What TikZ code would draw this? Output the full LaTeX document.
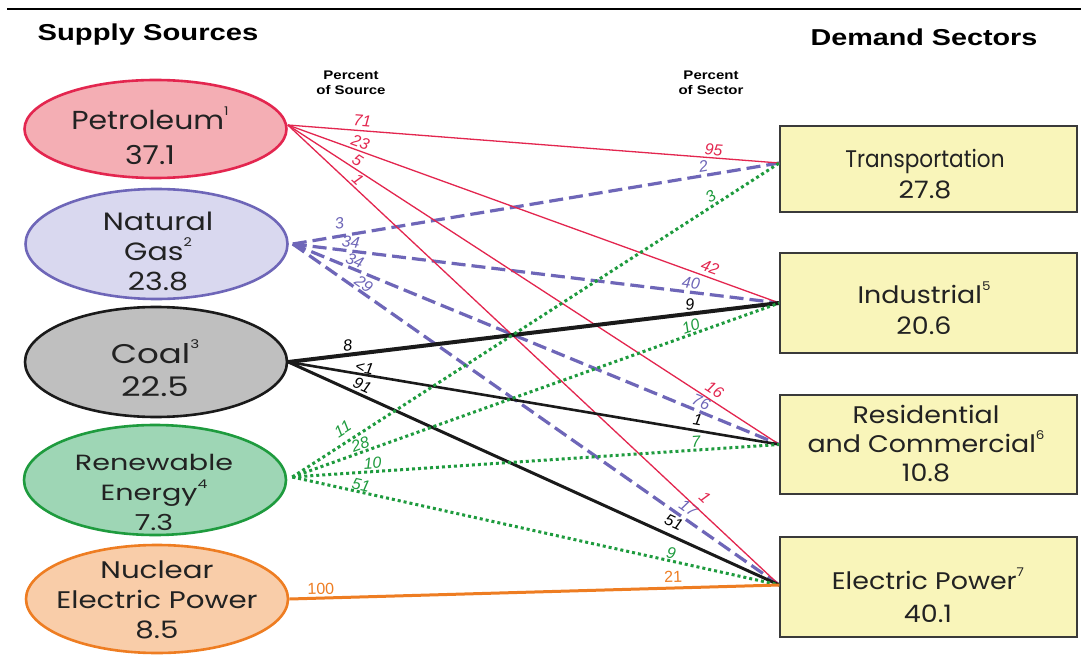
\documentclass[tikz,border=0pt]{standalone}
\usepackage{fontspec}
\setmainfont{Liberation Sans}
\newfontfamily\nodefont{Poppins}
\usetikzlibrary{shapes.geometric}
\definecolor{petfill}{HTML}{F4AEB4}
\definecolor{petdraw}{HTML}{E3264F}
\definecolor{gasfill}{HTML}{D9D8EF}
\definecolor{gasdraw}{HTML}{6E66B8}
\definecolor{coalfill}{HTML}{BFBFBF}
\definecolor{coaldraw}{HTML}{1A1A1A}
\definecolor{renfill}{HTML}{9ED6B5}
\definecolor{rendraw}{HTML}{1E9B3E}
\definecolor{nucfill}{HTML}{F9CDA9}
\definecolor{nucdraw}{HTML}{EE7D22}
\definecolor{boxfill}{HTML}{F9F5BA}
\definecolor{boxdraw}{HTML}{3A3A3A}
\definecolor{txtcol}{HTML}{222222}
\newcommand{\sps}[1]{\raisebox{1.0ex}{\fontsize{12}{12}\selectfont #1}}
\newcommand{\sx}[2]{\scalebox{#1}[1]{#2}}
\begin{document}
\begin{tikzpicture}[x=1pt,y=-1pt,
  src/.style={ellipse, line width=2.6pt, inner sep=0pt, minimum width=262pt},
  sink/.style={rectangle, draw=boxdraw, fill=boxfill, line width=1.3pt, minimum width=297pt, inner sep=0pt},
  srctxt/.style={align=center, inner sep=0pt, text=txtcol},
  head/.style={font=\bfseries\fontsize{23}{23}\selectfont, inner sep=0pt},
  subhead/.style={font=\bfseries\fontsize{12.5}{15}\selectfont, align=center, inner sep=0pt},
  lbl/.style={font=\fontsize{16}{16}\selectfont\itshape, inner sep=1pt, sloped, above=1pt},
  petline/.style={draw=petdraw, line width=1.3pt},
  gasline/.style={draw=gasdraw, line width=3.2pt, dash pattern=on 14pt off 6pt},
  coalline/.style={draw=coaldraw, line width=3pt},
  renline/.style={draw=rendraw, line width=3pt, dash pattern=on 3pt off 3pt},
  nucline/.style={draw=nucdraw, line width=3pt}
]
\useasboundingbox (0,0) rectangle (1081,666);
\fill[white] (0,0) rectangle (1081,666);
\coordinate (ruleL) at (7,9);
\coordinate (ruleR) at (1081,9);
\draw[line width=2.5pt, black] (ruleL) -- (ruleR);

% headings
\node[head] (hsup) at (148,35) {\scalebox{1.27}[1]{Supply Sources}};
\node[head] (hdem) at (924,37) {\scalebox{1.25}[1]{Demand Sectors}};
\node[subhead] (psrc) at (351,83) {\scalebox{1.2}[1]{Percent}\\\scalebox{1.2}[1]{of Source}};
\node[subhead] (psec) at (711,83) {\scalebox{1.2}[1]{Percent}\\\scalebox{1.2}[1]{of Sector}};

% supply sources
\node[src, draw=petdraw, fill=petfill, minimum height=98pt] (pet) at (155.5,129) {};
\node[src, draw=gasdraw, fill=gasfill, minimum height=110pt] (gas) at (156.5,244) {};
\node[src, draw=coaldraw, fill=coalfill, minimum height=110pt] (coal) at (156,362) {};
\node[src, draw=rendraw, fill=renfill, minimum height=110pt] (ren) at (155,480) {};
\node[src, draw=nucdraw, fill=nucfill, minimum height=108pt] (nuc) at (157,599) {};

\node[srctxt, font=\nodefont\fontsize{26}{35}\selectfont] (pett) at (150,136) {\sx{1.15}{Petroleum\sps{1}}\\\sx{1.15}{37.1}};
\node[srctxt, font=\nodefont\fontsize{25}{30}\selectfont] (gast) at (158,251) {\sx{1.2}{Natural}\\\sx{1.2}{Gas\sps{2}}\\\sx{1.2}{23.8}};
\node[srctxt, font=\nodefont\fontsize{27}{33}\selectfont] (coalt) at (155,368) {\sx{1.26}{Coal\sps{3}}\\\sx{1.26}{22.5}};
\node[srctxt, font=\nodefont\fontsize{22}{30}\selectfont] (rent) at (154,492) {\sx{1.3}{Renewable}\\\sx{1.3}{Energy\sps{4}}\\\sx{1.3}{7.3}};
\node[srctxt, font=\nodefont\fontsize{24}{30}\selectfont] (nuct) at (157,600) {\sx{1.22}{Nuclear}\\\sx{1.22}{Electric Power}\\\sx{1.22}{8.5}};

% demand sectors
\node[sink, minimum height=86pt] (tr) at (928.5,169) {};
\node[sink, minimum height=100pt] (ind) at (928.5,303) {};
\node[sink, minimum height=99pt] (res) at (928.5,444.5) {};
\node[sink, minimum height=100pt] (ep) at (928.5,587) {};

\node[srctxt, font=\nodefont\fontsize{24}{31}\selectfont] (trt) at (925,174) {\sx{0.9}{Transportation}\\\sx{1.12}{27.8}};
\node[srctxt, font=\nodefont\fontsize{24}{31}\selectfont] (indt) at (924,308) {\sx{1.12}{Industrial\sps{5}}\\\sx{1.12}{20.6}};
\node[srctxt, font=\nodefont\fontsize{24}{29}\selectfont] (rest) at (926,444) {\sx{1.12}{Residential}\\\sx{1.12}{and Commercial\sps{6}}\\\sx{1.12}{10.8}};
\node[srctxt, font=\nodefont\fontsize{24}{33}\selectfont] (ept) at (928,595) {\sx{1.12}{Electric Power\sps{7}}\\\sx{1.12}{40.1}};

% ports
\coordinate (petE) at ([yshift=4pt]pet.east);
\coordinate (gasE) at ([xshift=4pt]gas.east);
\coordinate (coalE) at (coal.east);
\coordinate (renE) at ([xshift=5pt,yshift=3pt]ren.east);
\coordinate (nucE) at (nuc.east);
\coordinate (trW) at ([yshift=6pt]tr.west);
\coordinate (indW) at (ind.west);
\coordinate (resW) at (res.west);
\coordinate (epW) at ([yshift=2pt]ep.west);

% natural gas
\draw[gasline] (gasE) -- node[lbl, text=gasdraw, pos=0.10, above=3pt] {3} node[lbl, text=gasdraw, pos=0.847] {2} (trW);
\draw[gasline] (gasE) -- node[lbl, text=gasdraw, pos=0.117, above=0pt] {34} node[lbl, text=gasdraw, pos=0.816] {40} (indW);
\draw[gasline] (gasE) -- node[lbl, text=gasdraw, pos=0.121, above=-1pt] {34} node[lbl, text=gasdraw, pos=0.832] {76} (resW);
\draw[gasline] (gasE) -- node[lbl, text=gasdraw, pos=0.136, above=-1pt] {29} node[lbl, text=gasdraw, pos=0.80, above=2pt] {17} (epW);

% petroleum
\draw[petline] (petE) -- node[lbl, text=petdraw, pos=0.15, above=2pt] {71} node[lbl, text=petdraw, pos=0.865] {95} (trW);
\draw[petline] (petE) -- node[lbl, text=petdraw, pos=0.142] {23} node[lbl, text=petdraw, pos=0.852, above=2pt] {42} (indW);
\draw[petline] (petE) -- node[lbl, text=petdraw, pos=0.133] {5} node[lbl, text=petdraw, pos=0.857, above=2pt] {16} (resW);
\draw[petline] (petE) -- node[lbl, text=petdraw, pos=0.131] {1} node[lbl, text=petdraw, pos=0.83, above=5pt] {1} (epW);

% coal
\draw[coalline, line width=4pt] (coalE) -- node[lbl, pos=0.123] {8} node[lbl, pos=0.82] {9} (indW);
\draw[coalline, line width=2.6pt] (coalE) -- node[lbl, pos=0.153, above=-2pt] {<1} node[lbl, pos=0.83, above=2pt] {1} (resW);
\draw[coalline] (coalE) -- node[lbl, pos=0.143, above=0pt] {91} node[lbl, pos=0.774, above=4pt] {51} (epW);

% renewable
\draw[renline] (renE) -- node[lbl, text=rendraw, pos=0.118, above=4pt] {11} node[lbl, text=rendraw, pos=0.869] {3} (trW);
\draw[renline] (renE) -- node[lbl, text=rendraw, pos=0.145, above=-1pt] {28} node[lbl, text=rendraw, pos=0.824, above=-1pt] {10} (indW);
\draw[renline] (renE) -- node[lbl, text=rendraw, pos=0.166, above=-1pt] {10} node[lbl, text=rendraw, pos=0.83, above=-1pt] {7} (resW);
\draw[renline] (renE) -- node[lbl, text=rendraw, pos=0.138, above=-2pt] {51} node[lbl, text=rendraw, pos=0.774, above=-1pt] {9} (epW);

% nuclear
\draw[nucline] (nucE) -- node[lbl, text=nucdraw, font=\fontsize{16}{16}\selectfont, pos=0.065] {100} node[lbl, text=nucdraw, font=\fontsize{16}{16}\selectfont, pos=0.784, above=2pt] {21} (epW);
\end{tikzpicture}
\end{document}
